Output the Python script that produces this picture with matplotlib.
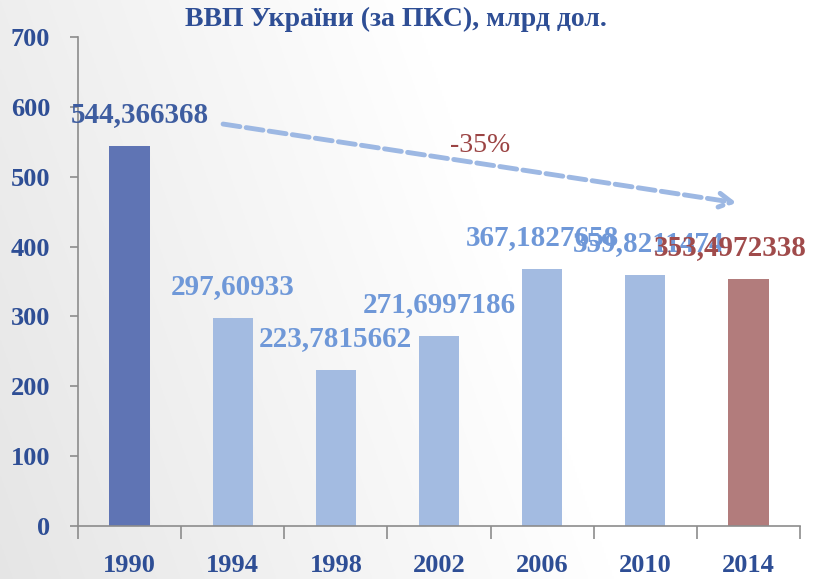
import numpy as np
import matplotlib
matplotlib.use("Agg")
import matplotlib.pyplot as plt

years = ["1990", "1994", "1998", "2002", "2006", "2010", "2014"]
gdp = [544.366368, 297.60933, 223.7815662, 271.6997186, 367.1827658, 359.8211474, 353.4972338]
labels = ["544,366368", "297,60933", "223,7815662", "271,6997186", "367,1827658", "359,8211474", "353,4972338"]
title = "ВВП України (за ПКС), млрд дол."
change_text = "-35%"

bar_colors = ["#5F74B4"] + ["#A3BBE1"] * 5 + ["#B27C7C"]
label_colors = ["#3E5DA0"] + ["#6F98D8"] * 5 + ["#A04B4B"]
dark_blue = "#2E4E95"
serif = ["Liberation Serif", "DejaVu Serif"]

fig = plt.figure(figsize=(8.17, 5.79), dpi=100)
# background gradient
bg = fig.add_axes([0, 0, 1, 1], zorder=-10)
xs = np.linspace(0, 1, 400)
ys = np.linspace(0, 1, 300)
X, Y = np.meshgrid(xs, ys)
t = np.clip((X * 1.0 + (1 - Y) * 0.25) / 0.75, 0, 1)
val = 0.90 + 0.10 * t
img = np.dstack([val, val, val])
bg.imshow(img, extent=[0, 1, 0, 1], aspect="auto", origin="upper")
bg.axis("off")

ax = fig.add_axes([78 / 817, 1 - 526 / 579, (800 - 78) / 817, (526 - 37) / 579])
ax.patch.set_alpha(0)
x = np.arange(len(years))
ax.bar(x, gdp, width=0.39, color=bar_colors, zorder=2)
ax.set_xlim(-0.5, len(years) - 0.5)
ax.set_ylim(0, 700)
ax.set_yticks(range(0, 701, 100))

for s in ["top", "right"]:
    ax.spines[s].set_visible(False)
for s in ["left", "bottom"]:
    ax.spines[s].set_color("#8C8C8C")
    ax.spines[s].set_linewidth(1.2)

ax.set_xticks(x)
ax.set_xticklabels(years)
ax.set_xticks(np.arange(-0.5, len(years)), minor=True)
ax.tick_params(axis="x", which="major", length=0, pad=20)
ax.tick_params(axis="x", which="minor", length=9, color="#8C8C8C", width=1.2, direction="out")
ax.tick_params(axis="y", which="major", length=6, color="#8C8C8C", width=1.2, pad=14)
for lab in ax.get_xticklabels() + ax.get_yticklabels():
    lab.set_fontfamily(serif)
    lab.set_fontweight("bold")
    lab.set_fontsize(19)
    lab.set_color(dark_blue)

offsets = [0.1, 0, 0, 0, 0, 0.03, -0.18]
for i, (v, lab) in enumerate(zip(gdp, labels)):
    ax.annotate(lab, (x[i] + offsets[i], v), xytext=(0, 13), textcoords="offset points",
                ha="center", va="bottom", fontsize=21, fontweight="bold",
                family=serif, color=label_colors[i], zorder=3)

ax.annotate("", xy=(5.91, 462), xytext=(0.88, 576),
            arrowprops=dict(arrowstyle="->,head_length=0.9,head_width=0.5", color="#9DB8E3",
                            lw=3.5, linestyle=(0, (3.5, 1.3))), zorder=1)
ax.text(3.4, 545, change_text, fontsize=20, family=serif, color="#9B4444", ha="center", va="center")

fig.text(396 / 817, 1 - 19 / 579, title, ha="center", va="center", fontsize=20,
         fontweight="bold", family=serif, color=dark_blue)

fig.savefig("out.png", dpi=100)
